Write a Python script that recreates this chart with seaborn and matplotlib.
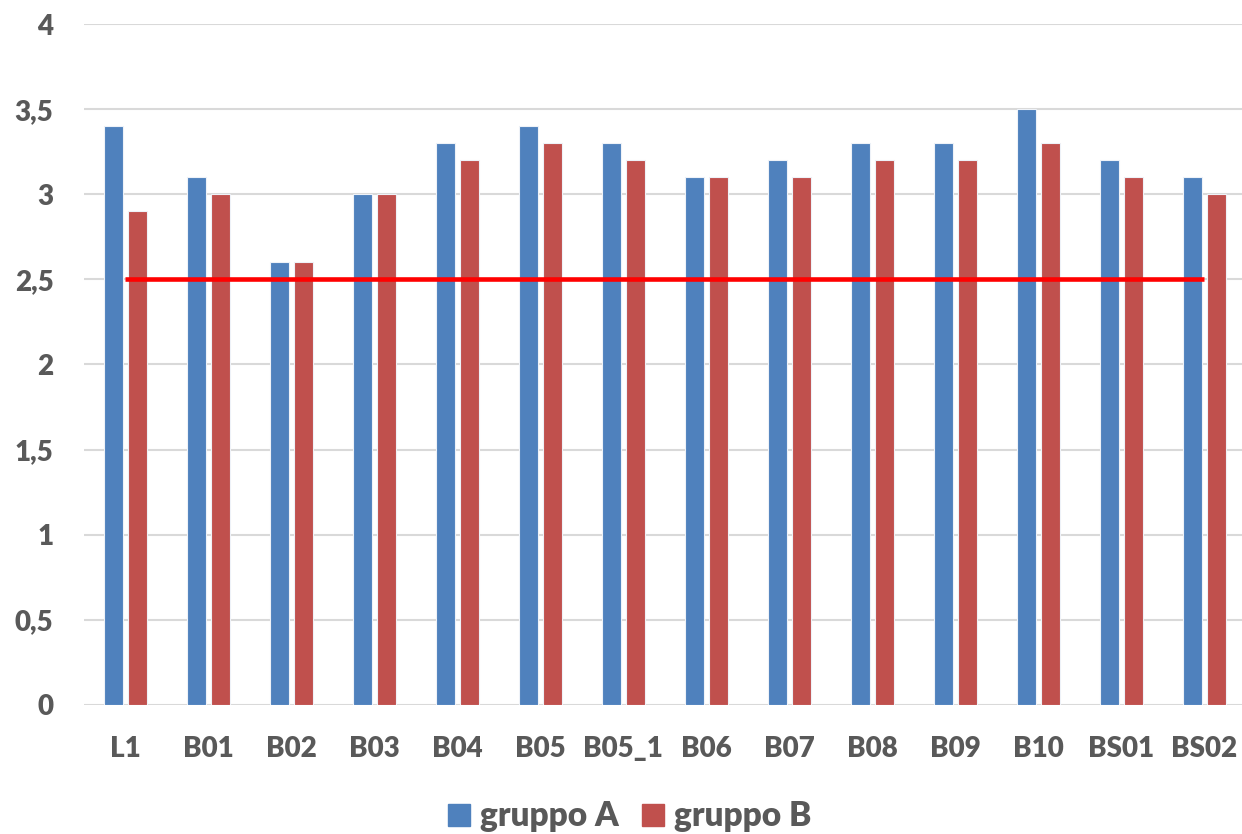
import matplotlib
matplotlib.use("Agg")
import matplotlib.pyplot as plt
from matplotlib.patches import Patch
import pandas as pd
import seaborn as sns

categories = ["L1", "B01", "B02", "B03", "B04", "B05", "B05_1", "B06",
              "B07", "B08", "B09", "B10", "BS01", "BS02"]
gruppo_a = [3.4, 3.1, 2.6, 3.0, 3.3, 3.4, 3.3, 3.1, 3.2, 3.3, 3.3, 3.5, 3.2, 3.1]
gruppo_b = [2.9, 3.0, 2.6, 3.0, 3.2, 3.3, 3.2, 3.1, 3.1, 3.2, 3.2, 3.3, 3.1, 3.0]
soglia = 2.5
y_ticks = [0, 0.5, 1, 1.5, 2, 2.5, 3, 3.5, 4]
y_labels = ["0", "0,5", "1", "1,5", "2", "2,5", "3", "3,5", "4"]

df = pd.DataFrame({
    "cat": categories * 2,
    "val": gruppo_a + gruppo_b,
    "gruppo": ["gruppo A"] * len(categories) + ["gruppo B"] * len(categories),
})
colors = {"gruppo A": "#4F81BD", "gruppo B": "#C0504D"}
txt = "#595959"

sns.set_style("white")
plt.rcParams["font.family"] = ["Lato", "DejaVu Sans"]

fig = plt.figure(figsize=(12.42, 8.34), dpi=100)
ax = fig.add_axes([0.0676, 0.1547, 0.9354, 0.8165])

sns.barplot(data=df, x="cat", y="val", hue="gruppo", order=categories,
            palette=colors, saturation=1, width=0.58, gap=0.2,
            edgecolor="#EEF2F8", linewidth=0.8, legend=False, ax=ax)

# linea soglia
ax.plot([0, len(categories) - 1], [soglia, soglia], color="#FF0000",
        lw=3.3, solid_capstyle="butt", zorder=5)

ax.set_ylim(0, 4)
ax.set_xlim(-0.5, len(categories) - 0.5)
ax.set_yticks(y_ticks)
ax.set_yticklabels(y_labels)
ax.yaxis.grid(True, color="#D9D9D9", lw=1.5)
ax.set_axisbelow(True)
for s in ax.spines.values():
    s.set_visible(False)
ax.tick_params(axis="y", length=0, pad=22, labelsize=20, labelcolor=txt)
ax.tick_params(axis="x", length=0, pad=22, labelsize=20, labelcolor=txt)
for lbl in ax.get_xticklabels() + ax.get_yticklabels():
    lbl.set_fontweight("heavy")
ax.set_xlabel("")
ax.set_ylabel("")

handles = [Patch(color=colors[k], label=k) for k in colors]
fig.legend(handles=handles, loc="center", bbox_to_anchor=(0.507, 0.021),
           ncol=2, frameon=False, handlelength=0.65, handleheight=0.65,
           handletextpad=0.3, columnspacing=0.7,
           prop={"size": 24, "weight": "heavy"}, labelcolor=txt)

fig.savefig("out.png", dpi=100)
